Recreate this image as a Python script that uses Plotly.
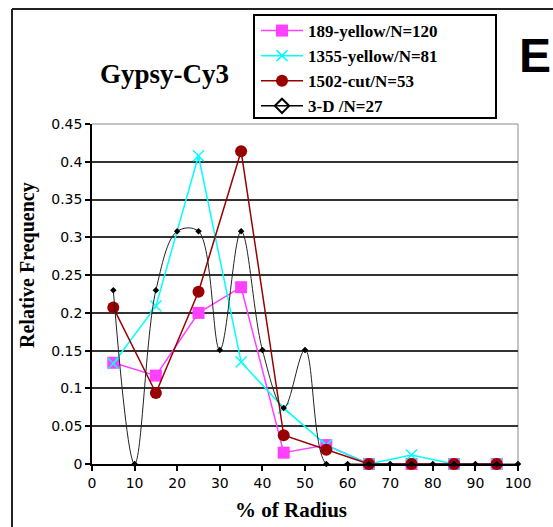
import plotly.graph_objects as go

# ---- data ----
x_bins = [5, 15, 25, 35, 45, 55, 65, 75, 85, 95]
y_189 = [0.134, 0.117, 0.200, 0.234, 0.015, 0.025, 0, 0, 0, 0]
y_1355 = [0.133, 0.209, 0.408, 0.135, 0.074, 0.025, 0, 0.012, 0, 0]
y_1502 = [0.207, 0.094, 0.228, 0.414, 0.038, 0.019, 0, 0, 0, 0]
x_3d = [5, 10, 15, 20, 25, 30, 35, 40, 45, 50, 55, 60, 65, 70, 75, 80, 85, 90, 95, 100]
y_3d = [0.230, 0, 0.230, 0.308, 0.308, 0.151, 0.308, 0.151, 0.074, 0.151,
        0, 0, 0, 0, 0, 0, 0, 0, 0, 0]

names = ["189-yellow/N=120", "1355-yellow/N=81", "1502-cut/N=53", "3-D /N=27"]
y_ticks = [0, 0.05, 0.1, 0.15, 0.2, 0.25, 0.3, 0.35, 0.4, 0.45]
y_tick_text = ["0", "0.05", "0.1", "0.15", "0.2", "0.25", "0.3", "0.35", "0.4", "0.45"]
x_ticks = [0, 10, 20, 30, 40, 50, 60, 70, 80, 90, 100]

MAG = "#ff40ff"
CYAN = "#00ffff"
RED = "#990000"
BLK = "#000000"

W, H = 553, 527
L, R, T, B = 92, W - 518, 124, H - 464
PW, PH = 518 - 92, 464 - 124


def px(xp):
    return (xp - L) / PW


def py(yp):
    return (464 - yp) / PH


def b(s):
    return "<b>" + s + "</b>"


fig = go.Figure()
fig.add_trace(go.Scatter(x=x_bins, y=y_189, name=b(names[0]), mode="lines+markers",
                         line=dict(color=MAG, width=1.5),
                         marker=dict(symbol="square", size=12, color=MAG),
                         cliponaxis=False, legendgroup="a"))
fig.add_trace(go.Scatter(x=x_bins, y=y_1355, name=b(names[1]), mode="lines+markers",
                         line=dict(color=CYAN, width=1.5),
                         marker=dict(symbol="x-thin-open", size=11, color=CYAN,
                                     line=dict(color=CYAN, width=1.5)),
                         cliponaxis=False, legendgroup="b"))
fig.add_trace(go.Scatter(x=x_bins, y=y_1502, name=b(names[2]), mode="lines+markers",
                         line=dict(color=RED, width=1.5),
                         marker=dict(symbol="circle", size=12, color=RED),
                         cliponaxis=False, legendgroup="c"))
fig.add_trace(go.Scatter(x=x_3d, y=y_3d, name=b(names[3]), mode="lines+markers",
                         line=dict(color="#222222", width=1, shape="spline", smoothing=1.0),
                         marker=dict(symbol="diamond", size=5, color=BLK),
                         cliponaxis=False, showlegend=False, legendgroup="d"))
fig.add_trace(go.Scatter(x=[None], y=[None], name=b(names[3]), mode="lines+markers",
                         line=dict(color=BLK, width=1.5),
                         marker=dict(symbol="diamond-open", size=11, color=BLK,
                                     line=dict(color=BLK, width=2)),
                         legendgroup="d"))

serif = "Liberation Serif"
fig.update_layout(
    width=W, height=H,
    margin=dict(l=L, r=R, t=T, b=B),
    paper_bgcolor="white", plot_bgcolor="white",
    showlegend=True,
    legend=dict(x=px(256), y=py(13), xanchor="left", yanchor="top",
                borderwidth=0, bgcolor="rgba(0,0,0,0)",
                font=dict(family=serif, size=17, color="black"),
                traceorder="grouped", tracegroupgap=0, itemwidth=42),
    xaxis=dict(range=[0, 100], tickvals=x_ticks, showgrid=False, zeroline=False,
               showline=True, linecolor="black", linewidth=1.5,
               ticks="outside", ticklen=5, tickcolor="black", tickwidth=1.5,
               tickfont=dict(family="DejaVu Sans", size=14, color="black")),
    yaxis=dict(range=[0, 0.45], tickvals=y_ticks, ticktext=y_tick_text, showgrid=True,
               gridcolor="#333333", gridwidth=1.8, zeroline=False,
               showline=True, linecolor="black", linewidth=1.5,
               ticks="outside", ticklen=5, tickcolor="black", tickwidth=1.5,
               tickfont=dict(family="DejaVu Sans", size=14, color="black")),
    annotations=[
        dict(text="<b>Gypsy-Cy3</b>", x=px(164), y=py(74), xref="paper", yref="paper",
             xanchor="center", yanchor="middle",
             showarrow=False, font=dict(family=serif, size=27, color="black")),
        dict(text="<b>E</b>", x=px(535), y=py(55), xref="paper", yref="paper",
             xanchor="center", yanchor="middle",
             showarrow=False, font=dict(family="Liberation Sans", size=48, color="black")),
        dict(text="<b>% of Radius</b>", x=px(291), y=py(510), xref="paper", yref="paper",
             xanchor="center", yanchor="middle",
             showarrow=False, font=dict(family=serif, size=21, color="black")),
        dict(text="<b>Relative Frequency</b>", x=px(27), y=py(265), xref="paper", yref="paper",
             xanchor="center", yanchor="middle", textangle=-90,
             showarrow=False, font=dict(family=serif, size=20, color="black")),
    ],
    shapes=[
        # plot area border (top and right) in gray
        dict(type="line", xref="paper", yref="paper", x0=0, x1=1, y0=1, y1=1,
             line=dict(color="#b0b0b0", width=1.5), layer="above"),
        dict(type="line", xref="paper", yref="paper", x0=1, x1=1, y0=0, y1=1,
             line=dict(color="#b0b0b0", width=1.5), layer="below"),
        # outer frame
        dict(type="line", xref="paper", yref="paper", x0=px(12), x1=px(560), y0=py(9), y1=py(9),
             line=dict(color="#222222", width=2)),
        dict(type="line", xref="paper", yref="paper", x0=px(12), x1=px(12), y0=py(9), y1=py(540),
             line=dict(color="#222222", width=2)),
        # legend box
        dict(type="rect", xref="paper", yref="paper", x0=px(254), x1=px(496), y0=py(118), y1=py(15),
             line=dict(color="black", width=2), fillcolor="rgba(0,0,0,0)"),
    ],
)

fig.write_html("out.html")
